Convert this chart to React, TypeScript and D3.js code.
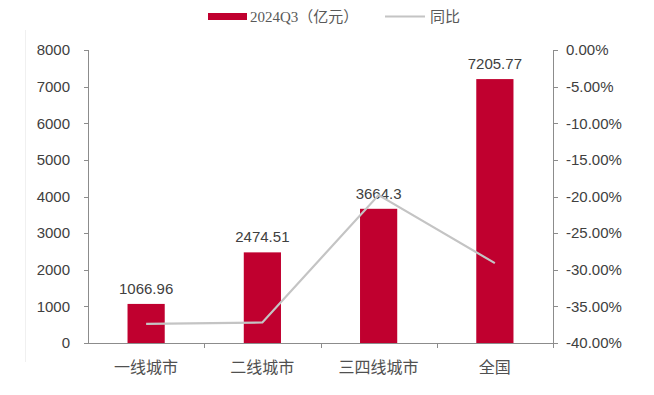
import React, { useRef, useEffect } from "react";
import * as d3 from "d3";

const categories = ["一线城市", "二线城市", "三四线城市", "全国"];
const amounts = [1066.96, 2474.51, 3664.3, 7205.77];
const amountLabels = ["1066.96", "2474.51", "3664.3", "7205.77"];
const yoy = [-0.374, -0.372, -0.198, -0.291];
const leftTicks = [0, 1000, 2000, 3000, 4000, 5000, 6000, 7000, 8000];
const rightTicks = [0, -0.05, -0.1, -0.15, -0.2, -0.25, -0.3, -0.35, -0.4];

const App = () => {
  const svgRef = useRef<SVGSVGElement>(null);

  useEffect(() => {
    const svg = d3.select(svgRef.current);
    svg.selectAll("*").remove();

    const width = 654;
    const height = 395;
    const margin = { top: 50, right: 101, bottom: 52, left: 88 };
    const font = "'Liberation Sans', Arial, sans-serif";
    const textColor = "#404040";
    const axisColor = "#8c8c8c";
    const barColor = "#c0002f";

    svg.attr("width", width).attr("height", height);

    const x = d3
      .scaleBand()
      .domain(categories)
      .range([margin.left, width - margin.right])
      .paddingInner(0.68)
      .paddingOuter(0.34);

    const y = d3
      .scaleLinear()
      .domain([0, 8000])
      .range([height - margin.bottom, margin.top]);

    const y2 = d3
      .scaleLinear()
      .domain([-0.4, 0])
      .range([height - margin.bottom, margin.top]);

    const x0 = margin.left;
    const x1 = width - margin.right;
    const yBase = height - margin.bottom;

    // faint frame edge
    svg
      .append("line")
      .attr("x1", 25.5)
      .attr("x2", 25.5)
      .attr("y1", 30)
      .attr("y2", 362)
      .attr("stroke", "#f0f0f0");

    // bars
    svg
      .selectAll("rect.bar")
      .data(amounts)
      .join("rect")
      .attr("class", "bar")
      .attr("x", (d, i) => x(categories[i])!)
      .attr("y", d => y(d))
      .attr("width", x.bandwidth())
      .attr("height", d => yBase - y(d))
      .attr("fill", barColor);

    // bar labels
    svg
      .selectAll("text.val")
      .data(amountLabels)
      .join("text")
      .attr("class", "val")
      .attr("x", (d, i) => x(categories[i])! + x.bandwidth() / 2)
      .attr("y", (d, i) => y(amounts[i]) - 10)
      .attr("text-anchor", "middle")
      .attr("fill", textColor)
      .style("font-family", font)
      .style("font-size", "15px")
      .text(d => d);

    // line
    const line = d3
      .line<number>()
      .x((d, i) => x(categories[i])! + x.bandwidth() / 2)
      .y(d => y2(d));

    svg
      .append("path")
      .datum(yoy)
      .attr("d", line)
      .attr("fill", "none")
      .attr("stroke", "#c4c4c4")
      .attr("stroke-width", 2.2);

    // axes lines
    const axisG = svg.append("g").attr("stroke", axisColor).attr("stroke-width", 1);
    axisG.append("line").attr("x1", x0 + 0.5).attr("x2", x0 + 0.5).attr("y1", y(8000)).attr("y2", yBase);
    axisG.append("line").attr("x1", x1 + 0.5).attr("x2", x1 + 0.5).attr("y1", y(8000)).attr("y2", yBase);
    axisG.append("line").attr("x1", x0).attr("x2", x1 + 1).attr("y1", yBase + 0.5).attr("y2", yBase + 0.5);

    // left ticks
    axisG
      .selectAll("line.lt")
      .data(leftTicks)
      .join("line")
      .attr("class", "lt")
      .attr("x1", x0 - 4)
      .attr("x2", x0)
      .attr("y1", d => Math.round(y(d)) + 0.5)
      .attr("y2", d => Math.round(y(d)) + 0.5);

    svg
      .selectAll("text.ltl")
      .data(leftTicks)
      .join("text")
      .attr("class", "ltl")
      .attr("x", 70)
      .attr("y", d => y(d))
      .attr("dy", "0.35em")
      .attr("text-anchor", "end")
      .attr("fill", textColor)
      .style("font-family", font)
      .style("font-size", "15px")
      .text(d => d);

    // right ticks
    axisG
      .selectAll("line.rt")
      .data(rightTicks)
      .join("line")
      .attr("class", "rt")
      .attr("x1", x1)
      .attr("x2", x1 + 5)
      .attr("y1", d => Math.round(y2(d)) + 0.5)
      .attr("y2", d => Math.round(y2(d)) + 0.5);

    svg
      .selectAll("text.rtl")
      .data(rightTicks)
      .join("text")
      .attr("class", "rtl")
      .attr("x", 566)
      .attr("y", d => y2(d))
      .attr("dy", "0.35em")
      .attr("text-anchor", "start")
      .attr("fill", textColor)
      .style("font-family", font)
      .style("font-size", "15px")
      .text(d => d3.format(".2%")(d).replace("−", "-"));

    // x ticks at band boundaries
    const step = x.step();
    const bounds = d3.range(1, categories.length + 1).map(i => x0 + step * i);
    axisG
      .selectAll("line.xt")
      .data(bounds)
      .join("line")
      .attr("class", "xt")
      .attr("x1", d => Math.round(d) + 0.5)
      .attr("x2", d => Math.round(d) + 0.5)
      .attr("y1", yBase)
      .attr("y2", yBase + 5);

    svg
      .selectAll("text.cat")
      .data(categories)
      .join("text")
      .attr("class", "cat")
      .attr("x", d => x(d)! + x.bandwidth() / 2)
      .attr("y", yBase + 30)
      .attr("text-anchor", "middle")
      .attr("fill", "#505050")
      .style("font-family", "'Noto Sans CJK SC', sans-serif")
      .style("font-size", "16px")
      .text(d => d);

    // legend
    const legend = svg.append("g");
    legend.append("rect").attr("x", 208).attr("y", 13).attr("width", 39).attr("height", 7).attr("fill", barColor);
    legend
      .append("text")
      .attr("x", 250)
      .attr("y", 22)
      .attr("fill", "#595959")
      .style("font-family", "'Liberation Serif', 'Noto Sans CJK SC', serif")
      .style("font-size", "15px")
      .text("2024Q3（亿元）");
    legend
      .append("line")
      .attr("x1", 385)
      .attr("x2", 425)
      .attr("y1", 16.5)
      .attr("y2", 16.5)
      .attr("stroke", "#c4c4c4")
      .attr("stroke-width", 2);
    legend
      .append("text")
      .attr("x", 430)
      .attr("y", 22)
      .attr("fill", "#595959")
      .style("font-family", "'Noto Sans CJK SC', serif")
      .style("font-size", "15px")
      .text("同比");
  }, []);

  return <svg ref={svgRef} style={{ position: "absolute", left: 0, top: 0 }} />;
};

export default App;
